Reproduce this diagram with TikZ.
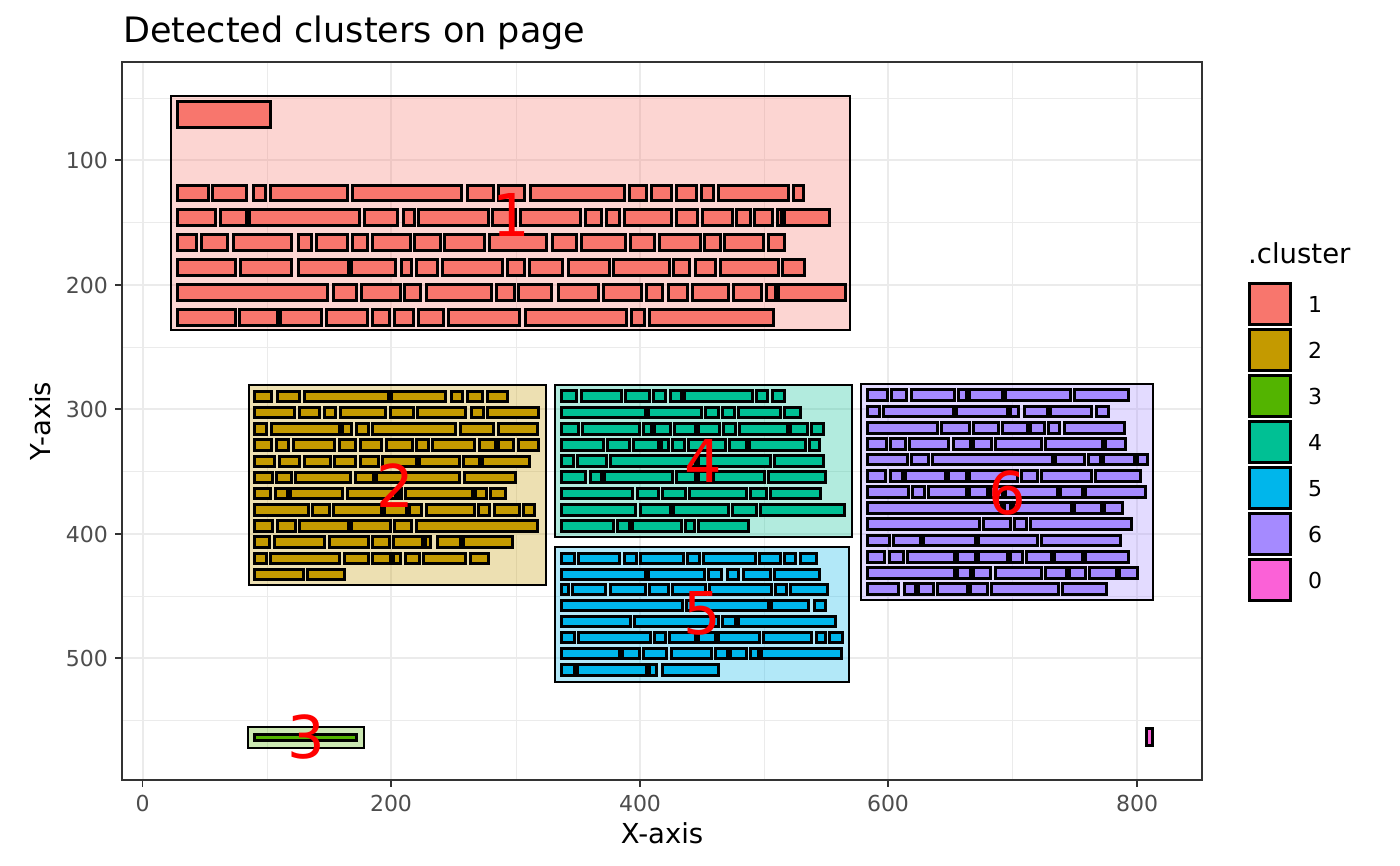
\documentclass[tikz,border=0pt]{standalone}
\usepackage{fontspec}
\setmainfont{DejaVu Sans}
\definecolor{cA}{HTML}{F8766D}
\definecolor{cB}{HTML}{C49A00}
\definecolor{cC}{HTML}{53B400}
\definecolor{cD}{HTML}{00C094}
\definecolor{cE}{HTML}{00B6EB}
\definecolor{cF}{HTML}{A58AFF}
\definecolor{cZ}{HTML}{FB61D7}
\definecolor{gridc}{HTML}{EBEBEB}
\definecolor{axc}{HTML}{333333}
\definecolor{tickc}{HTML}{4D4D4D}
\newcommand{\wrow}[4]{\foreach \a/\b in {#4}{\draw[wbox,fill=#1] (\a+1.4,#2+1.4) rectangle (\b-1.4,#3-1.4);}}
\tikzset{
  wbox/.style={draw=black,line width=2.8pt},
  cbg/.style={draw=black,line width=2.4pt,fill opacity=0.3},
  majgrid/.style={draw=gridc,line width=2pt},
  mingrid/.style={draw=gridc,line width=1pt},
  ticklab/.style={text=tickc,font=\fontsize{22}{26}\selectfont,inner sep=0pt},
  axtitle/.style={text=black,font=\fontsize{27.5}{32}\selectfont,inner sep=0pt},
  clab/.style={text=red,font=\fontsize{59}{66}\selectfont,inner sep=0pt},
  legkey/.style={draw=black,line width=2.8pt},
}
\begin{document}
\begin{tikzpicture}[x=1pt,y=-1pt]
\useasboundingbox (0,0) rectangle (1400,865);
\fill[white] (0,0) rectangle (1400,865);
% grid
\foreach \gx in {267,516,764,1012.5} \draw[mingrid] (\gx,62) -- (\gx,780);
\foreach \gy in {98,222,347,471,596,720} \draw[mingrid] (122,\gy) -- (1202,\gy);
\foreach \gx in {142.5,391,640,888,1137} \draw[majgrid] (\gx,62) -- (\gx,780);
\foreach \gy in {160,285,409,534,658} \draw[majgrid] (122,\gy) -- (1202,\gy);
% cluster backgrounds
\draw[cbg,fill=cA] (171,96) rectangle (850,330);
\draw[cbg,fill=cB] (249,385) rectangle (546,585);
\draw[cbg,fill=cD] (555,385) rectangle (852,537);
\draw[cbg,fill=cE] (555,547) rectangle (849,682);
\draw[cbg,fill=cF] (861,384) rectangle (1153,600);
\draw[cbg,fill=cC] (248,727) rectangle (364,748);
% cluster 1
\draw[wbox,fill=cA] (177.4,101.4) rectangle (270.6,127.6);
\wrow{cA}{184}{202}{176/210,211/248,252/267,269/349,351/463,466/495,497/526,529/626,628/648,650/673,675/698,700/715,717/790,792/805}
\wrow{cA}{208}{227}{176/217,219/248,248/361,363/399,402/416,417/490,491/517,519/582,584/603,605/621,623/673,675/699,701/734,735/752,753/774,776/783,783/831}
\wrow{cA}{233}{252}{176/198,200/229,232/293,297/313,315/349,351/369,371/412,413/442,443/486,488/548,551/578,580/627,629/656,658/702,703/722,723/765,767/786}
\wrow{cA}{258}{277}{176/237,239/293,297/350,350/397,400/413,415/439,441/504,506/526,528/564,567/611,612/671,672/691,694/717,719/780,781/806}
\wrow{cA}{283}{302}{176/329,332/358,360/402,403/422,425/493,495/516,517/553,557/600,602/643,645/664,667/689,691/730,732/763,765/777,777/847}
\wrow{cA}{308}{327}{176/237,238/279,279/323,325/369,371/391,393/415,417/445,447/521,524/628,630/646,648/775}
% cluster 2
\wrow{cB}{390}{403}{253/273,276/301,303/390,390/447,450/464,466/484,486/509}
\wrow{cB}{406}{419}{253/296,298/321,323/337,339/387,389/415,416/467,470/485,486/540}
\wrow{cB}{422}{436}{253/268,270/341,341/353,355/370,371/457,459/495,497/539}
\wrow{cB}{438}{452}{253/273,275/290,292/336,338/357,359/383,385/414,415/430,431/476,478/497,497/515,517/540}
\wrow{cB}{455}{468}{253/276,278/301,303/332,333/357,359/380,381/418,418/461,462/481,481/531}
\wrow{cB}{471}{484}{253/274,275/293,294/352,354/375,375/461,463/517}
\wrow{cB}{487}{500}{253/272,274/289,289/344,346/397,397/403,404/474,474/488,489/507}
\wrow{cB}{503}{517}{253/310,311/331,332/383,383/408,408/423,425/476,477/491,493/521,522/536}
\wrow{cB}{519}{533}{253/274,276/297,298/350,350/392,393/413,415/539}
\wrow{cB}{535}{549}{253/271,273/326,328/370,371/391,392/424,424/432,436/462,462/514}
\wrow{cB}{552}{565}{253/268,269/341,343/370,371/392,392/402,404/421,422/467,469/490}
\wrow{cB}{568}{581}{253/305,306/346}
% cluster 4
\wrow{cD}{389}{403}{560/578,580/623,624/651,652/667,669/683,683/754,755/769,771/786}
\wrow{cD}{406}{419}{560/647,647/703,704/720,721/736,737/782,783/802}
\wrow{cD}{422}{436}{560/580,581/641,642/653,653/672,673/697,697/721,722/737,738/789,789/809,810/825}
\wrow{cD}{438}{452}{560/605,606/631,632/660,660/670,671/686,687/727,728/748,748/807,808/821}
\wrow{cD}{454}{468}{560/575,576/608,609/697,697/772,773/825}
\wrow{cD}{470}{484}{560/587,589/603,603/674,675/697,697/712,712/766,767/827}
\wrow{cD}{487}{500}{560/634,636/660,661/687,688/748,749/768,769/822}
\wrow{cD}{503}{517}{560/637,639/672,672/730,731/758,759/846}
\wrow{cD}{519}{533}{560/615,616/631,631/683,684/696,697/750}
% cluster 5
\wrow{cE}{552}{565}{560/576,577/621,623/638,639/685,686/701,702/757,758/782,783/797,799/818}
\wrow{cE}{568}{581}{560/647,647/706,707/723,726/740,742/772,773/821}
\wrow{cE}{583}{596}{560/570,571/607,609/647,648/670,671/707,708/773,774/788,789/829}
\wrow{cE}{599}{612}{560/684,685/770,770/810,813/827}
\wrow{cE}{615}{628}{560/632,633/720,721/737,737/837}
\wrow{cE}{631}{644}{560/576,577/652,653/667,668/697,697/717,717/761,762/813,815/827,828/844}
\wrow{cE}{647}{660}{560/621,621/641,642/668,670/713,714/729,729/748,749/760,760/843}
\wrow{cE}{663}{677}{560/576,576/648,648/658,661/720}
% cluster 6
\wrow{cF}{388}{402}{866/889,890/908,910/956,957/968,968/1004,1004/1072,1073/1130}
\wrow{cF}{405}{418}{866/881,882/955,955/1009,1009/1020,1023/1049,1049/1093,1095/1110}
\wrow{cF}{421}{435}{866/939,940/971,972/1000,1001/1029,1029/1046,1047/1061,1063/1126}
\wrow{cF}{437}{451}{866/888,889/907,908/950,952/972,972/993,994/1043,1044/1104,1104/1127}
\wrow{cF}{453}{466}{866/909,910/930,931/1054,1054/1086,1087/1102,1102/1136,1136/1149}
\wrow{cF}{469}{483}{866/887,889/904,904/947,947/968,968/1019,1020/1039,1040/1093,1094/1142}
\wrow{cF}{485}{499}{866/910,911/926,927/968,968/989,989/1004,1004/1059,1059/1084,1084/1147}
\wrow{cF}{501}{515}{866/1003,1003/1012,1012/1073,1073/1103,1103/1124}
\wrow{cF}{517}{531}{866/981,982/1012,1013/1028,1029/1133}
\wrow{cF}{534}{547}{866/891,892/922,922/977,977/1039,1040/1122}
\wrow{cF}{550}{564}{866/886,888/905,906/956,956/977,977/1009,1009/1024,1025/1053,1053/1084,1084/1130}
\wrow{cF}{566}{580}{866/956,956/972,972/992,994/1043,1044/1068,1068/1087,1088/1118,1118/1139}
\wrow{cF}{582}{596}{866/900,903/917,917/935,936/969,969/989,990/1060,1061/1108}
% cluster 3 and 0
\wrow{cC}{733}{742}{253/358}
\wrow{cZ}{727}{747}{1145/1154}
% cluster labels
\node[clab] (l1) at (511,215) {1};
\node[clab] (l2) at (395,486) {2};
\node[clab] (l4) at (703,461) {4};
\node[clab] (l5) at (702,613) {5};
\node[clab] (l6) at (1007,493) {6};
\node[clab] (l3) at (306,737) {3};
% panel border
\draw[axc,line width=1.5pt] (122,62) rectangle (1202,780);
% ticks
\foreach \gx/\lab in {142.5/0,391/200,640/400,888/600,1137/800}{
  \draw[axc,line width=1.5pt] (\gx,780) -- (\gx,787);
  \node[ticklab,anchor=base] at (\gx,811) {\lab};
}
\foreach \gy/\lab in {160/100,285/200,409/300,534/400,658/500}{
  \draw[axc,line width=1.5pt] (115,\gy) -- (122,\gy);
  \node[ticklab,anchor=base east] at (108,\gy+8) {\lab};
}
% titles
\node[anchor=base west,inner sep=0pt,font=\fontsize{35}{40}\selectfont] (title) at (123,42) {Detected clusters on page};
\node[axtitle,anchor=base] (xt) at (662,843) {X-axis};
\node[axtitle,anchor=base,rotate=90] (yt) at (50,421) {Y-axis};
% legend
\node[axtitle,anchor=base west] (lt) at (1248,263) {.cluster};
\foreach \k/\col/\lab in {0/cA/1,1/cB/2,2/cC/3,3/cD/4,4/cE/5,5/cF/6,6/cZ/0}{
  \draw[legkey,fill=\col] (1249.5,283.5+46*\k) rectangle (1290.5,324.5+46*\k);
  \node[ticklab,text=black,anchor=base west] at (1308,312+46*\k) {\lab};
}
\end{tikzpicture}
\end{document}
